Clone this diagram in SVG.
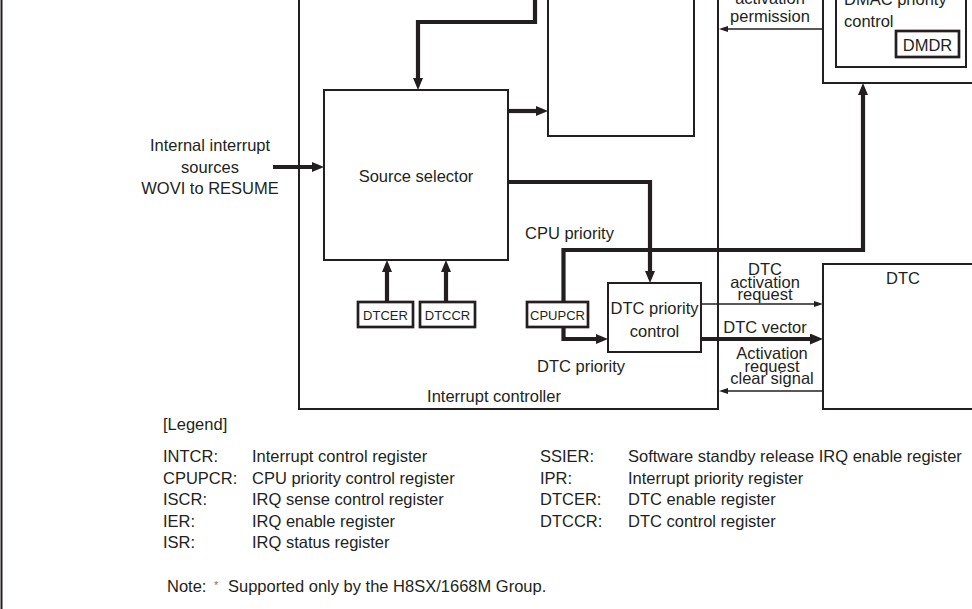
<svg xmlns="http://www.w3.org/2000/svg" width="972" height="609" viewBox="0 0 972 609">
<style>
  text { font-family: "Liberation Sans", Arial, sans-serif; font-size: 16.5px; fill: #231f20; }
  .c { text-anchor: middle; }
  .reg { font-size: 13px; }
  .box { fill: none; stroke: #231f20; stroke-width: 2; }
  .rbox { fill: #fff; stroke: #231f20; stroke-width: 2.7; }
  .thick { fill: none; stroke: #231f20; stroke-width: 4.2; marker-end: url(#ah); }
  .vec { fill: none; stroke: #231f20; stroke-width: 4.2; marker-end: url(#ahb); }
  .thin { fill: none; stroke: #231f20; stroke-width: 1.3; marker-end: url(#at); }
</style>
<defs>
  <marker id="ah" markerUnits="userSpaceOnUse" markerWidth="12" markerHeight="10" refX="1" refY="5" orient="auto">
    <path d="M0,0 L12,5 L0,10 z" fill="#231f20"/>
  </marker>
  <marker id="ahb" markerUnits="userSpaceOnUse" markerWidth="13" markerHeight="11" refX="1" refY="5.5" orient="auto">
    <path d="M0,0 L13,5.5 L0,11 z" fill="#231f20"/>
  </marker>
  <marker id="at" markerUnits="userSpaceOnUse" markerWidth="9" markerHeight="6" refX="1" refY="3" orient="auto">
    <path d="M0,0 L9,3 L0,6 z" fill="#231f20"/>
  </marker>
</defs>
<rect width="972" height="609" fill="#fff"/>
<line x1="1.5" y1="0" x2="1.5" y2="609" stroke="#231f20" stroke-width="2"/>

<g id="interrupt-controller">
  <rect class="box" x="299" y="-10" width="419" height="419" stroke-width="2.4"/>
  <text class="c" x="494" y="402">Interrupt controller</text>
</g>
<g id="upper-block">
  <rect class="box" x="548" y="-10" width="146" height="146"/>
</g>
<g id="source-selector">
  <rect class="box" x="324" y="90" width="184" height="170"/>
  <text class="c" x="416" y="182">Source selector</text>
</g>
<g id="internal-sources">
  <text class="c" x="210" y="151">Internal interrupt</text>
  <text class="c" x="210" y="172.5">sources</text>
  <text class="c" x="210" y="194">WOVI to RESUME</text>
</g>
<g id="dtcer">
  <rect class="rbox" x="358" y="302" width="55" height="25"/>
  <text class="c reg" x="385.5" y="319.5">DTCER</text>
</g>
<g id="dtccr">
  <rect class="rbox" x="420" y="302" width="55" height="25"/>
  <text class="c reg" x="447.5" y="319.5">DTCCR</text>
</g>
<g id="cpupcr">
  <rect class="rbox" x="527" y="302" width="61" height="25"/>
  <text class="c reg" x="557.5" y="319.5">CPUPCR</text>
</g>
<g id="dtc-priority-control">
  <rect class="box" x="608" y="283" width="93" height="69"/>
  <text class="c" x="654.5" y="314">DTC priority</text>
  <text class="c" x="654.5" y="337">control</text>
</g>
<g id="dmac">
  <rect class="box" x="823" y="-10" width="160" height="93" stroke-width="2.3"/>
  <rect class="box" x="836" y="-10" width="130" height="77" stroke-width="2.3"/>
  <text x="844" y="5">DMAC priority</text>
  <text x="844" y="27">control</text>
  <rect class="rbox" x="896" y="31" width="63" height="26"/>
  <text class="c" x="927.5" y="50.5">DMDR</text>
</g>
<g id="dtc">
  <rect class="box" x="823" y="264" width="160" height="145" stroke-width="2.3"/>
  <text class="c" x="903" y="284">DTC</text>
</g>

<g id="connectors">
  <path class="thick" d="M535,-5 V22 H418 V79"/>
  <path class="thick" d="M508,111 H537"/>
  <path class="thick" d="M273,167 H313"/>
  <path class="thick" d="M387,302 V271"/>
  <path class="thick" d="M446,302 V271"/>
  <path class="thick" d="M508,182 H650 V272"/>
  <path class="thick" d="M563.5,327 V339 H597"/>
  <path class="thick" d="M563.5,302 V250 H863 V94"/>
  <path class="vec" d="M701,339 H811"/>
  <path class="thin" d="M701,304 H815"/>
  <path class="thin" d="M823,391 H727"/>
  <path class="thin" d="M823,29 H727"/>
</g>

<g id="connector-labels">
  <text class="c" x="770" y="4">activation</text>
  <text class="c" x="770" y="22">permission</text>
  <text x="525" y="239">CPU priority</text>
  <text x="537" y="372">DTC priority</text>
  <text class="c" x="765" y="275">DTC</text>
  <text class="c" x="765" y="288">activation</text>
  <text class="c" x="765" y="300">request</text>
  <text class="c" x="765" y="333">DTC vector</text>
  <text class="c" x="772" y="359">Activation</text>
  <text class="c" x="772" y="371.5">request</text>
  <text class="c" x="772" y="384">clear signal</text>
</g>

<g id="legend">
  <text x="163" y="430">[Legend]</text>
  <text x="163" y="462">INTCR:</text><text x="252" y="462">Interrupt control register</text>
  <text x="163" y="483.5">CPUPCR:</text><text x="252" y="483.5">CPU priority control register</text>
  <text x="163" y="505">ISCR:</text><text x="252" y="505">IRQ sense control register</text>
  <text x="163" y="526.5">IER:</text><text x="252" y="526.5">IRQ enable register</text>
  <text x="163" y="548">ISR:</text><text x="252" y="548">IRQ status register</text>
  <text x="540" y="462">SSIER:</text><text x="628" y="462">Software standby release IRQ enable register</text>
  <text x="540" y="483.5">IPR:</text><text x="628" y="483.5">Interrupt priority register</text>
  <text x="540" y="505">DTCER:</text><text x="628" y="505">DTC enable register</text>
  <text x="540" y="526.5">DTCCR:</text><text x="628" y="526.5">DTC control register</text>
  <text x="167" y="592">Note:</text>
  <text x="214" y="589" style="font-size:11px;fill:#777">*</text>
  <text x="228" y="592">Supported only by the H8SX/1668M Group.</text>
</g>
</svg>
